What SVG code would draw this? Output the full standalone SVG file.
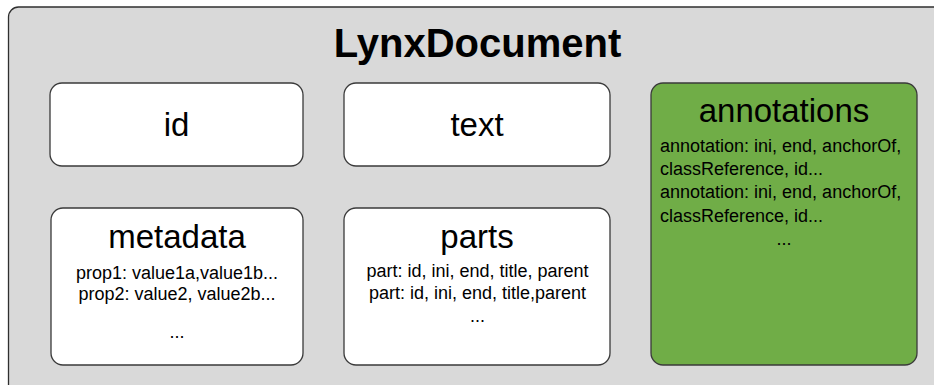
<svg xmlns="http://www.w3.org/2000/svg" width="934" height="385" viewBox="0 0 934 385">
  <style>
    text { font-family: "Liberation Sans", Arial, sans-serif; fill: #000; }
    .box { fill: #ffffff; stroke: #3a3a3a; stroke-width: 1.3; }
    .green { fill: #70ad47; stroke: #3a3a3a; stroke-width: 1.3; }
    .head { font-size: 33px; text-anchor: middle; }
    .line { font-size: 18px; }
    .mid { text-anchor: middle; }
  </style>

  <!-- container -->
  <g id="lynxdocument">
    <rect x="8.5" y="7" width="1000" height="420" rx="10" fill="#d9d9d9" stroke="#2f2f2f" stroke-width="1.3"/>
    <text x="477.5" y="57" font-size="40" font-weight="bold" text-anchor="middle">LynxDocument</text>
  </g>

  <g id="id">
    <rect class="box" x="50" y="83" width="253" height="83" rx="12"/>
    <text class="head" x="176.5" y="136">id</text>
  </g>

  <g id="text">
    <rect class="box" x="344" y="83" width="266" height="83" rx="12"/>
    <text class="head" x="477" y="136">text</text>
  </g>

  <g id="annotations">
    <rect class="green" x="651" y="83" width="266" height="282" rx="12"/>
    <text class="head" x="784" y="122">annotations</text>
    <text class="line" x="660" y="152">annotation: ini, end, anchorOf,</text>
    <text class="line" x="660" y="175">classReference, id...</text>
    <text class="line" x="660" y="198">annotation: ini, end, anchorOf,</text>
    <text class="line" x="660" y="222">classReference, id...</text>
    <text class="line mid" x="784" y="245">...</text>
  </g>

  <g id="metadata">
    <rect class="box" x="51" y="208" width="252" height="157" rx="12"/>
    <text class="head" x="177" y="248">metadata</text>
    <text class="line mid" x="177" y="279">prop1: value1a,value1b...</text>
    <text class="line mid" x="177" y="300">prop2: value2, value2b...</text>
    <text class="line mid" x="177" y="338">...</text>
  </g>

  <g id="parts">
    <rect class="box" x="344" y="208" width="266" height="157" rx="12"/>
    <text class="head" x="477" y="248">parts</text>
    <text class="line mid" x="477.5" y="277">part: id, ini, end, title, parent</text>
    <text class="line mid" x="477.5" y="299">part: id, ini, end, title,parent</text>
    <text class="line mid" x="477.5" y="322">...</text>
  </g>

  <!-- no connectors in this diagram -->
  <g id="connectors"/>
</svg>
